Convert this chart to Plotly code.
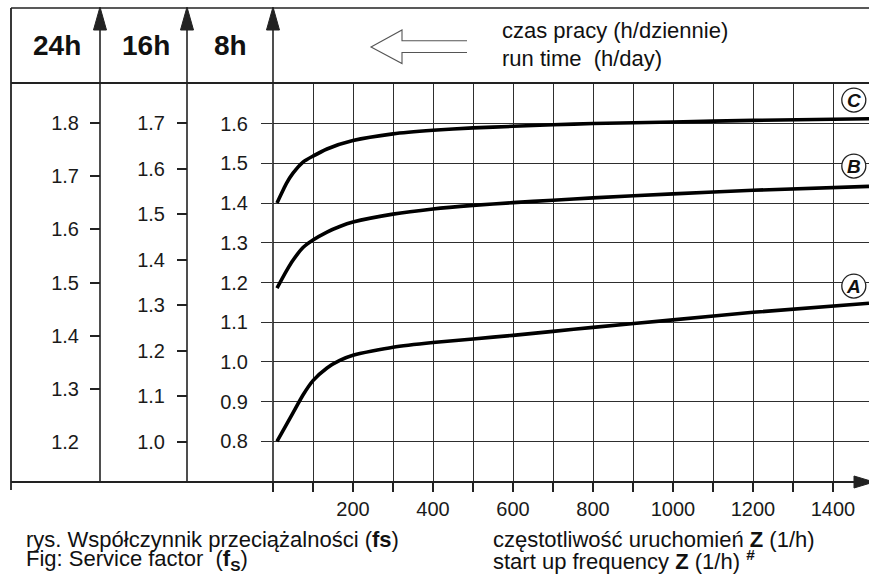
import plotly.graph_objects as go

W, H = 869, 581

# ---- data (8h scale service factor vs start-up frequency) ----
freq_a = [10, 50, 75, 100, 135, 167, 200, 300, 400, 500, 600, 700, 800, 1000, 1200, 1490]
fs_a = [0.80, 0.872, 0.917, 0.953, 0.985, 1.004, 1.017, 1.037, 1.049, 1.058, 1.067, 1.077, 1.087, 1.106, 1.125, 1.148]

freq_b = [10, 34, 50, 75, 100, 135, 167, 200, 300, 400, 500, 600, 700, 800, 1000, 1200, 1490]
fs_b = [1.186, 1.23, 1.256, 1.288, 1.307, 1.327, 1.341, 1.352, 1.372, 1.385, 1.394, 1.401, 1.407, 1.413, 1.423, 1.432, 1.442]

freq_c = [10, 34, 50, 75, 100, 135, 200, 300, 400, 500, 600, 700, 800, 1000, 1200, 1490]
fs_c = [1.40, 1.45, 1.475, 1.503, 1.518, 1.536, 1.557, 1.574, 1.583, 1.589, 1.593, 1.597, 1.600, 1.604, 1.608, 1.612]

curve_names = ["A", "B", "C"]

x_ticks = list(range(0, 1500, 100))
x_labels = [str(v) if (v % 200 == 0 and v > 0) else "" for v in x_ticks]
y8_ticks = [0.8, 0.9, 1.0, 1.1, 1.2, 1.3, 1.4, 1.5, 1.6]
y16_ticks = [1.0, 1.1, 1.2, 1.3, 1.4, 1.5, 1.6, 1.7]
y24_ticks = [1.2, 1.3, 1.4, 1.5, 1.6, 1.7, 1.8]
y24_marked = [1.3, 1.4, 1.5, 1.6, 1.7, 1.8]

FONT = "Liberation Sans, Arial, sans-serif"


def px(x):
    return x / W


def py(y):
    return 1 - y / H


fig = go.Figure()
for fx, fy, nm in [(freq_a, fs_a, "A"), (freq_b, fs_b, "B"), (freq_c, fs_c, "C")]:
    fig.add_trace(go.Scatter(x=fx, y=fy, mode="lines", name=nm, showlegend=False,
                             line=dict(color="black", width=3.6, shape="spline", smoothing=0.6),
                             hoverinfo="skip"))
for ax in ["y2", "y3", "y4"]:
    fig.add_trace(go.Scatter(x=[None], y=[None], yaxis=ax, showlegend=False, hoverinfo="skip"))

grid_col = "#2e2e2e"
line_col = "#222222"
tickfont = dict(family=FONT, size=20, color="#1a1a1a")

fig.update_layout(
    width=W, height=H, template="none",
    paper_bgcolor="white", plot_bgcolor="white",
    margin=dict(l=0, r=0, t=0, b=0, autoexpand=False),
    showlegend=False,
    xaxis=dict(domain=[px(273), 1], range=[0, 1490], tickvals=x_ticks, ticktext=x_labels,
               ticks="outside", ticklen=9, tickwidth=1.5, tickcolor=line_col,
               showgrid=True, gridcolor=grid_col, gridwidth=1.4, zeroline=False,
               showline=False, tickfont=tickfont, ticklabelstandoff=0, automargin=False,
               fixedrange=True),
    yaxis=dict(domain=[py(482), py(83)], range=[0.698, 1.702], tickvals=y8_ticks,
               ticktext=[f"{v:.1f}" for v in y8_ticks],
               ticks="outside", ticklen=11, tickwidth=1.4, tickcolor=grid_col,
               showgrid=True, gridcolor=grid_col, gridwidth=1.4, zeroline=False,
               showline=False, tickfont=tickfont, ticklabelstandoff=9, automargin=False,
               fixedrange=True),
    yaxis2=dict(overlaying="y", anchor="free", position=px(187), side="left",
                range=[0.9122, 1.7881], tickvals=y16_ticks,
                ticktext=[f"{v:.1f}" for v in y16_ticks],
                ticks="outside", ticklen=10, tickwidth=1.5, tickcolor=line_col,
                showgrid=False, zeroline=False, showline=False, tickfont=tickfont,
                ticklabelstandoff=8, automargin=False, fixedrange=True),
    yaxis3=dict(overlaying="y", anchor="free", position=px(100), side="left",
                range=[1.1241, 1.8759], tickvals=y24_ticks,
                ticktext=[f"{v:.1f}" for v in y24_ticks],
                ticks="outside", ticklen=10, tickwidth=1.5, tickcolor="rgba(0,0,0,0)",
                showgrid=False, zeroline=False, showline=False, tickfont=tickfont,
                ticklabelstandoff=7, automargin=False, fixedrange=True),
    yaxis4=dict(overlaying="y", anchor="free", position=px(100), side="left",
                range=[1.1241, 1.8759], tickvals=y24_marked, showticklabels=False,
                ticks="outside", ticklen=10, tickwidth=1.5, tickcolor=line_col,
                showgrid=False, zeroline=False, showline=False, automargin=False,
                fixedrange=True),
)

shapes = []


def pline(x0, y0, x1, y1, w=1.6, c=line_col):
    shapes.append(dict(type="line", xref="paper", yref="paper",
                       x0=px(x0), y0=py(y0), x1=px(x1), y1=py(y1),
                       line=dict(color=c, width=w)))


def ppath(points, closed=True, fill=line_col, w=1.0, c=line_col):
    d = "M " + " L ".join(f"{px(a):.5f},{py(b):.5f}" for a, b in points)
    if closed:
        d += " Z"
    shapes.append(dict(type="path", xref="paper", yref="paper", path=d,
                       fillcolor=fill if closed else "rgba(0,0,0,0)",
                       line=dict(color=c, width=w)))


# frame
pline(11, 8, 869, 8, 1.6)
pline(11, 83, 869, 83, 2.0)
pline(11, 8, 11, 490, 1.8)
pline(11, 482, 856, 482, 1.8)
ppath([(854, 476), (874, 482), (854, 488)])
# vertical scale axes with arrows
for xv in [100, 187, 273]:
    pline(xv, 482, xv, 26, 1.6)
    ppath([(xv - 6.5, 30), (xv, 7), (xv + 6.5, 30)])
# outline arrow in header
ppath([(467, 40.7), (402, 40.7), (402, 30), (371, 47), (402, 63.5), (402, 52.5), (467, 52.5)],
      closed=False, w=1.1, c="#555555")

# circled curve labels
label_pos = {"C": 1.659, "B": 1.493, "A": 1.191}
annotations = []
for nm in curve_names:
    shapes.append(dict(type="circle", xref="x", yref="y", xsizemode="pixel", ysizemode="pixel",
                       xanchor=1452, yanchor=label_pos[nm], x0=-12, x1=12, y0=-12, y1=12,
                       fillcolor="white", line=dict(color="#222", width=1.3), layer="above"))
    annotations.append(dict(x=1452, y=label_pos[nm], xref="x", yref="y", showarrow=False,
                            text=f"<b><i>{nm}</i></b>",
                            font=dict(family=FONT, size=19, color="#111")))


def ptext(x, y, text, size, xanchor="left"):
    annotations.append(dict(x=px(x), y=py(y), xref="paper", yref="paper", showarrow=False,
                            xanchor=xanchor, yanchor="middle", text=text, borderpad=0,
                            font=dict(family=FONT, size=size, color="#111")))


ptext(57, 45, "<b>24h</b>", 28, "center")
ptext(146, 45, "<b>16h</b>", 28, "center")
ptext(231, 45, "<b>8h</b>", 28, "center")
ptext(501, 31, "czas pracy (h/dziennie)", 22)
ptext(501, 58, "run time\u00a0 (h/day)", 22)
ptext(25, 539, "rys. Współczynnik przeciążalności (<b>fs</b>)", 22)
ptext(25, 560, "Fig: Service factor\u00a0 (<b>f<sub>S</sub></b>)", 22)
ptext(492, 539, "częstotliwość uruchomień <b>Z</b> (1/h)", 22)
ptext(492, 560, "start up frequency <b>Z</b> (1/h) <sup><b>#</b></sup>", 22)

fig.update_layout(shapes=shapes, annotations=annotations)
fig.write_html("out.html", config={"displayModeBar": False},
               post_script="document.body.style.margin='0';document.body.style.overflow='hidden';")
